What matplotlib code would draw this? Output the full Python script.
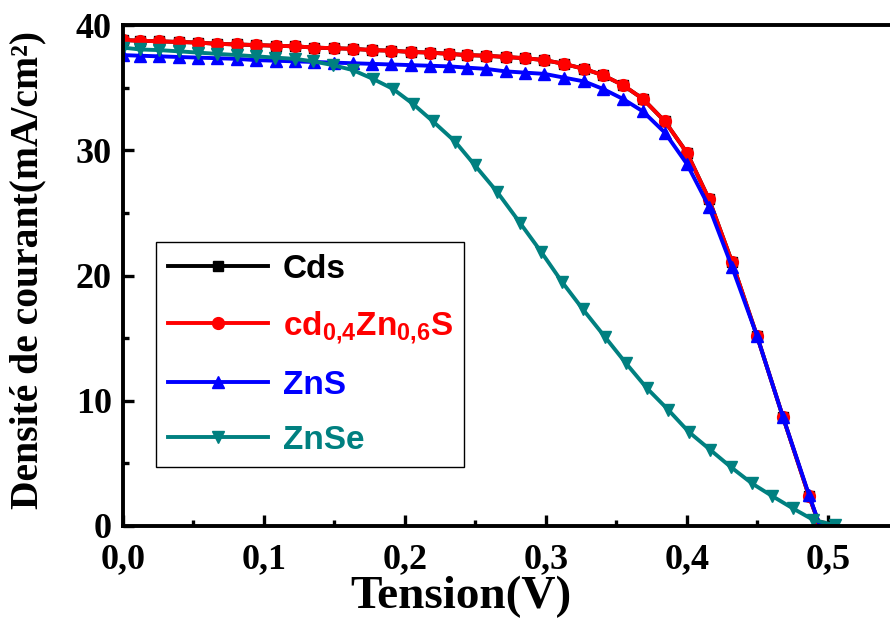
import matplotlib
matplotlib.use("Agg")
import matplotlib.pyplot as plt
from matplotlib.ticker import MultipleLocator, FormatStrFormatter

# voltage grid shared by Cds / cd0.4Zn0.6S / ZnS
v_main = [0.0, 0.0121, 0.0258, 0.0395, 0.0532, 0.0670, 0.0807, 0.0943, 0.1082,
          0.1220, 0.1355, 0.1493, 0.1631, 0.1766, 0.1904, 0.2043, 0.2177, 0.2312,
          0.2440, 0.2574, 0.2713, 0.2851, 0.2989, 0.3128, 0.3270, 0.3404, 0.3546,
          0.3688, 0.3844, 0.4000, 0.4156, 0.4319, 0.4496, 0.4681, 0.4865, 0.4943]

j_cds = [38.8, 38.75, 38.7, 38.65, 38.6, 38.5, 38.45, 38.4, 38.35, 38.3, 38.2,
         38.15, 38.1, 38.0, 37.95, 37.85, 37.8, 37.7, 37.6, 37.55, 37.45, 37.35,
         37.2, 36.9, 36.5, 36.0, 35.2, 34.1, 32.3, 29.8, 26.1, 21.1, 15.2, 8.7,
         2.4, 0.0]

j_cdzns = [38.8, 38.75, 38.7, 38.65, 38.6, 38.5, 38.45, 38.4, 38.35, 38.3, 38.2,
           38.15, 38.1, 38.0, 37.95, 37.85, 37.8, 37.7, 37.6, 37.55, 37.45, 37.35,
           37.2, 36.9, 36.5, 36.0, 35.2, 34.1, 32.3, 29.8, 26.1, 21.1, 15.2, 8.7,
           2.4, 0.0]

j_zns = [37.6, 37.55, 37.5, 37.45, 37.4, 37.35, 37.3, 37.2, 37.15, 37.1, 37.05,
         37.0, 36.95, 36.9, 36.85, 36.8, 36.75, 36.7, 36.6, 36.5, 36.3, 36.2,
         36.1, 35.8, 35.5, 34.9, 34.1, 33.1, 31.4, 28.9, 25.5, 20.7, 15.2, 8.7,
         2.5, 0.0]

v_znse = [0.0, 0.0121, 0.0255, 0.0397, 0.0532, 0.0667, 0.0809, 0.0943, 0.1078,
          0.1220, 0.1348, 0.1489, 0.1631, 0.1773, 0.1915, 0.2057, 0.2199, 0.2355,
          0.2496, 0.2652, 0.2816, 0.2965, 0.3113, 0.3262, 0.3418, 0.3567, 0.3716,
          0.3865, 0.4014, 0.4163, 0.4312, 0.4461, 0.4603, 0.4752, 0.4894, 0.5050]

j_znse = [38.2, 38.05, 38.0, 37.9, 37.8, 37.7, 37.6, 37.5, 37.4, 37.3, 37.1,
          36.8, 36.4, 35.7, 34.9, 33.7, 32.3, 30.7, 28.8, 26.7, 24.2, 21.9,
          19.5, 17.3, 15.1, 13.0, 11.0, 9.3, 7.5, 6.1, 4.7, 3.4, 2.4, 1.4,
          0.5, 0.05]

labels = ["Cds", r"cd$_{0{,}4}$Zn$_{0{,}6}$S", "ZnS", "ZnSe"]
colors = ["black", "red", "blue", "#008080"]

plt.rcParams["mathtext.fontset"] = "custom"
plt.rcParams["mathtext.rm"] = "Liberation Sans:bold"
plt.rcParams["mathtext.bf"] = "Liberation Sans:bold"
plt.rcParams["mathtext.default"] = "bf"

fig = plt.figure(figsize=(8.9, 6.23), dpi=100)
ax = fig.add_axes([0.1382, 0.1557, 0.8618, 0.8041])

lw = 2.8
ax.plot(v_main, j_cds, color=colors[0], marker="s", ms=7, lw=lw, label=labels[0])
ax.plot(v_main, j_cdzns, color=colors[1], marker="o", ms=8.5, lw=lw, label=labels[1])
ax.plot(v_main, j_zns, color=colors[2], marker="^", ms=9, lw=lw, label=labels[2])
ax.plot(v_znse, j_znse, color=colors[3], marker="v", ms=8.5, lw=lw, label=labels[3])

ax.set_xlim(0, 0.544)
ax.set_ylim(0, 40)

ax.xaxis.set_major_locator(MultipleLocator(0.1))
ax.xaxis.set_minor_locator(MultipleLocator(0.05))
ax.yaxis.set_major_locator(MultipleLocator(10))
ax.yaxis.set_minor_locator(MultipleLocator(5))
ax.xaxis.set_major_formatter(FormatStrFormatter("%.1f"))
fig.canvas.draw()
ax.set_xticklabels([f"{t:.1f}".replace(".", ",") for t in ax.get_xticks()])

ax.tick_params(which="both", direction="in", width=2.4, top=False, right=False)
ax.tick_params(which="major", length=8, labelsize=26)
ax.tick_params(axis="x", which="major", pad=12)
ax.tick_params(axis="y", which="major", pad=8)
ax.tick_params(which="minor", length=4)
for lab in ax.get_xticklabels() + ax.get_yticklabels():
    lab.set_family("Liberation Serif")
    lab.set_fontweight("bold")

for side in ["left", "bottom", "top"]:
    ax.spines[side].set_linewidth(2.8)
ax.spines["right"].set_visible(False)

ax.set_xlabel("Tension(V)", family="Liberation Serif", fontweight="bold",
              fontsize=34)
ax.xaxis.set_label_coords(0.441, -0.100)
ax.set_ylabel("Densité de courant(mA/cm²)", family="Liberation Serif",
              fontweight="bold", fontsize=28.5)
ax.yaxis.set_label_coords(-0.100, 0.511)

leg = ax.legend(loc="upper left", bbox_to_anchor=(0.043, 0.567),
                prop={"family": "Liberation Sans", "weight": "bold", "size": 24},
                labelcolor="linecolor", handlelength=3.0, handletextpad=0.45,
                borderpad=0.35, labelspacing=0.72, fancybox=False, framealpha=1,
                borderaxespad=0)
leg.get_frame().set_edgecolor("black")
leg.get_frame().set_linewidth(1.0)

fig.savefig("out.png", dpi=100)
